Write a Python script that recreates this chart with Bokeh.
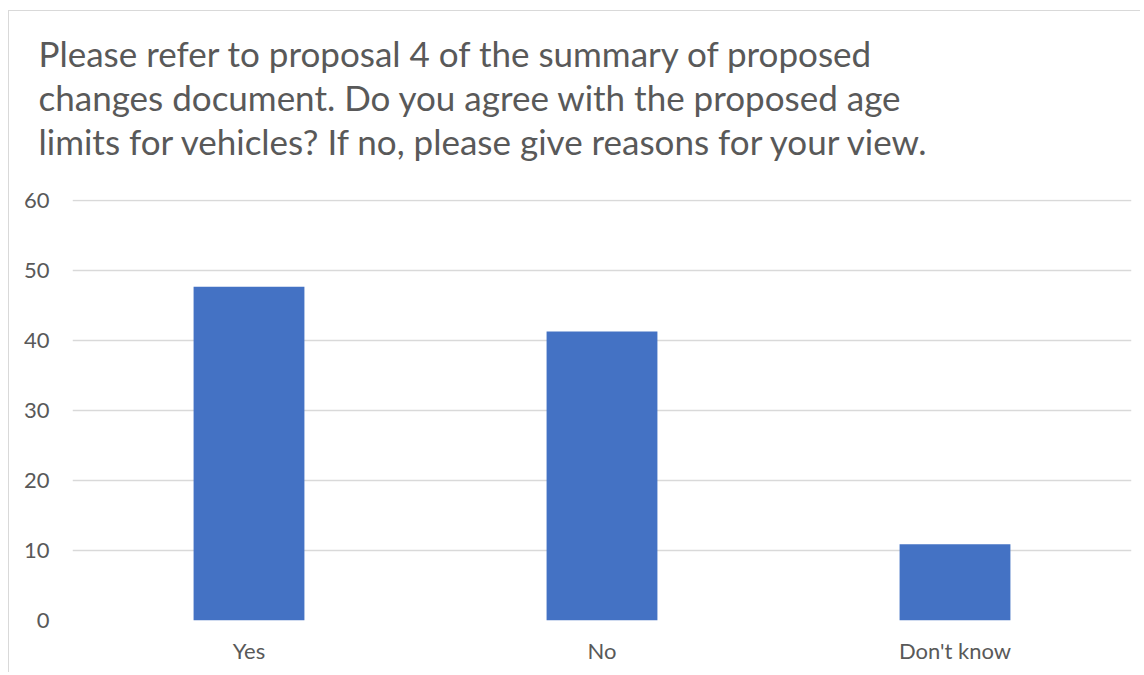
from bokeh.plotting import figure
from bokeh.models import FactorRange, Range1d, FixedTicker, Title
from bokeh.embed import file_html
from bokeh.resources import INLINE

categories = ["Yes", "No", "Don't know"]
values = [47.7, 41.3, 10.9]
y_ticks = [0, 10, 20, 30, 40, 50, 60]
title_lines = [
    "Please refer to proposal 4 of the summary of proposed",
    "changes document. Do you agree with the proposed age",
    "limits for vehicles? If no, please give reasons for your view.",
]

FONT = "Lato"
TEXT = "#595959"
BORDER = "#d9d9d9"

bg = (f"linear-gradient({BORDER},{BORDER}) 8px 10px / 1px 100% no-repeat, "
      f"linear-gradient({BORDER},{BORDER}) 8px 10px / 100% 1px no-repeat, white")

p = figure(
    x_range=FactorRange(*categories, range_padding=0),
    y_range=Range1d(0, 60.15),
    width=1140, height=672,
    output_backend="svg", toolbar_location=None, title=None,
    min_border_left=72, min_border_right=9, min_border_top=199, min_border_bottom=52,
    styles={"background": bg},
)
p.outline_line_color = None
p.background_fill_color = "white"
p.border_fill_color = None

p.vbar(x=categories, top=values, width=0.314, color="#4472C4", line_color=None)

p.yaxis.ticker = FixedTicker(ticks=y_ticks)
p.ygrid.grid_line_color = BORDER
p.ygrid.grid_line_width = 1.3
p.xgrid.grid_line_color = None

for ax in (p.xaxis, p.yaxis):
    ax.axis_line_color = None
    ax.major_tick_line_color = None
    ax.minor_tick_line_color = None
    ax.major_label_text_font = FONT
    ax.major_label_text_font_size = "22px"
    ax.major_label_text_color = TEXT
p.yaxis.major_label_standoff = 17
p.xaxis.major_label_standoff = 10

# spacer between the title block and the plot area
p.add_layout(Title(text=" ", text_font=FONT, text_font_size="10px", standoff=24), "above")
for line in reversed(title_lines):
    p.add_layout(Title(
        text=line, align="left", offset=-34, standoff=0,
        text_font=FONT, text_font_size="35px", text_color=TEXT,
        text_font_style="normal",
    ), "above")

open("out.html", "w").write(file_html(p, INLINE))
